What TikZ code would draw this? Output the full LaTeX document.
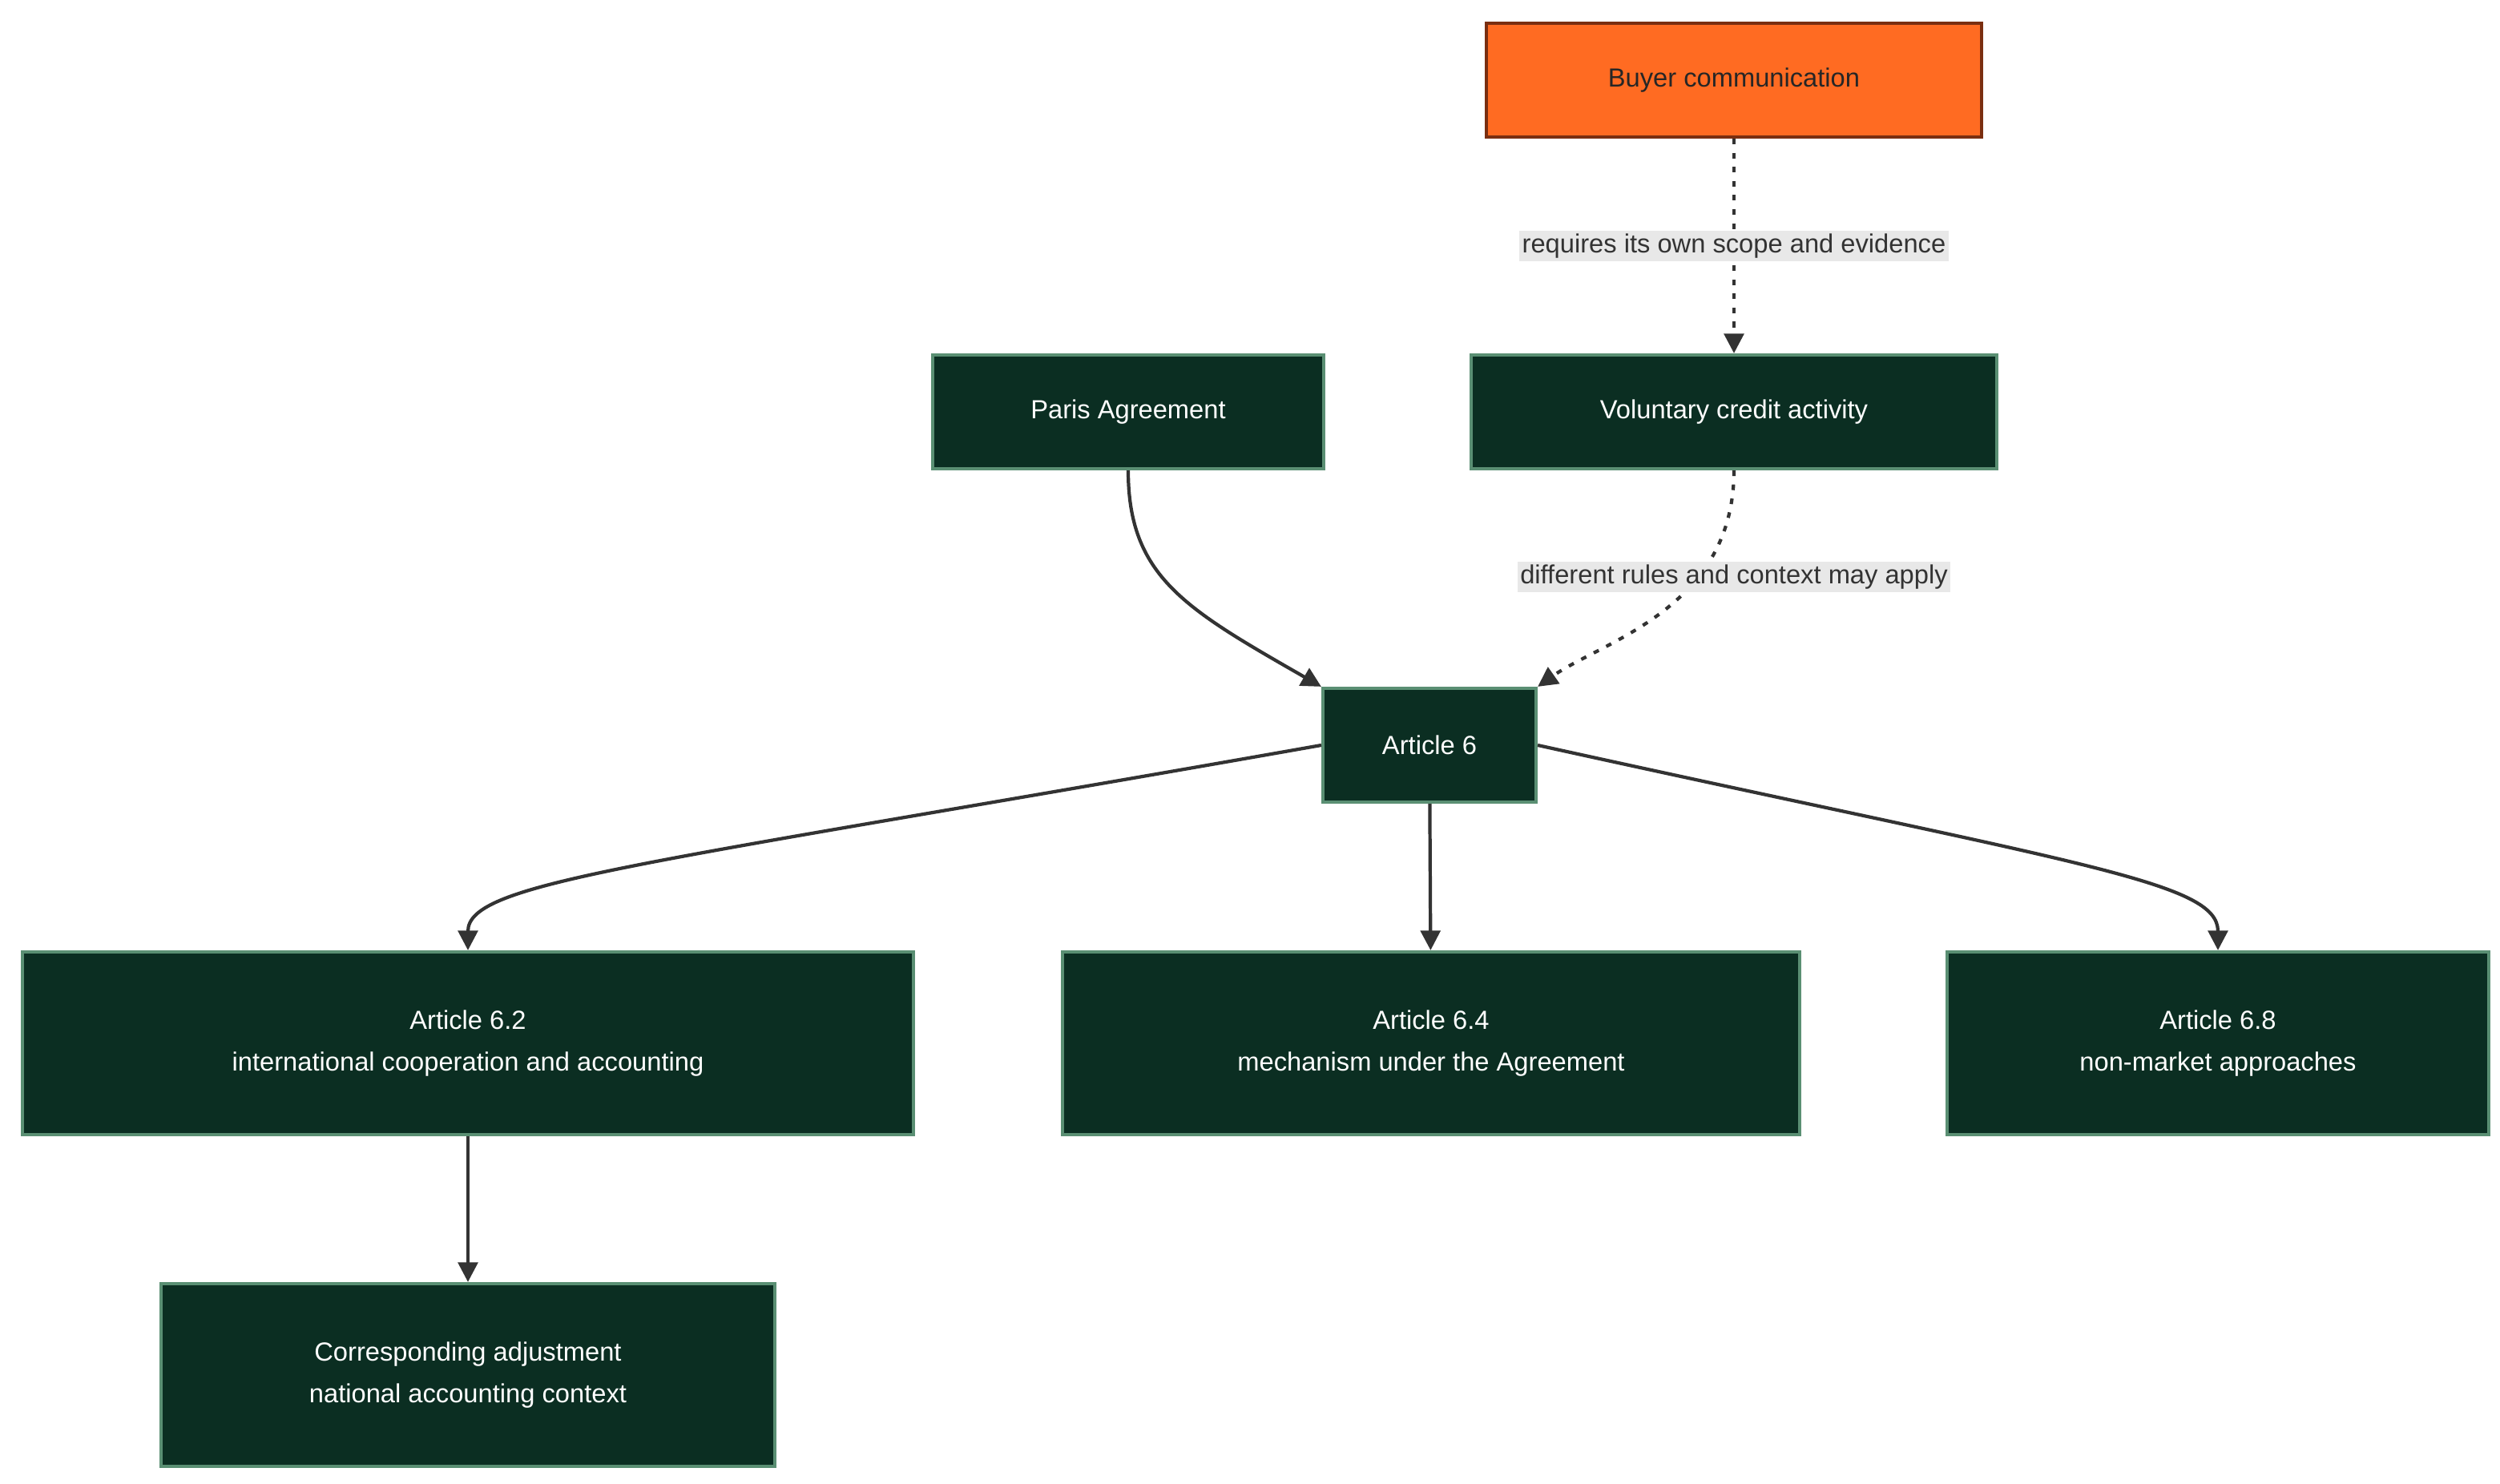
\documentclass[tikz,border=0pt]{standalone}
\usepackage{fontspec}
\setmainfont{Liberation Sans}
\usepackage{tikz}
\usetikzlibrary{arrows.meta,positioning}
\definecolor{boxfill}{HTML}{0B2E22}
\definecolor{boxline}{HTML}{5A8F73}
\definecolor{buyfill}{HTML}{FF6B22}
\definecolor{buyline}{HTML}{7A2E10}
\definecolor{edge}{HTML}{333333}
\definecolor{lblbg}{HTML}{E8E8E8}

\begin{document}
\begin{tikzpicture}
    [
    x=0.02cm, y=-0.02cm,
    box/.style = {draw=boxline, fill=boxfill, text=white, line width=1.2pt, rectangle, minimum height=1.42cm, align=center, font=\fontsize{9.3}{15}\selectfont},
    bigbox/.style = {box, minimum height=2.28cm},
    buyer/.style = {box, draw=buyline, fill=buyfill, text=black!85},
    arrow/.style = {-{Triangle[length=7pt,width=7pt]}, line width=1.2pt, draw=edge},
    dotarrow/.style = {arrow, dash pattern=on 2pt off 3pt},
    lbl/.style = {fill=lblbg, text=edge, inner sep=1pt, font=\fontsize{9.3}{11}\selectfont}
    ]
    \useasboundingbox (0,0) rectangle (1560,926);

% Nodes
    \node[buyer, minimum width=6.18cm] (buyer) at (1082,50) {Buyer communication};
    \node[box, minimum width=4.88cm] (paris) at (704,257) {Paris Agreement};
    \node[box, minimum width=6.56cm] (vol) at (1082,257) {Voluntary credit activity};
    \node[box, minimum width=2.66cm] (art6) at (892,465) {Article 6};
    \node[bigbox, minimum width=11.12cm] (a62) at (292,651) {Article 6.2\\international cooperation and accounting};
    \node[bigbox, minimum width=9.2cm] (a64) at (893,651) {Article 6.4\\mechanism under the Agreement};
    \node[bigbox, minimum width=6.76cm] (a68) at (1384,651) {Article 6.8\\non-market approaches};
    \node[bigbox, minimum width=7.66cm] (corr) at (292,858) {Corresponding adjustment\\national accounting context};

% Arrows
    \draw[dotarrow] (buyer) -- node[lbl] {requires its own scope and evidence} (vol);
    \draw[arrow] (paris.south) .. controls (704,360) and (740,380) .. (art6.north west);
    \draw[dotarrow] (vol.south) .. controls (1082,380) and (1000,400) .. (art6.north east);
    \node[lbl] at (1082,360) {different rules and context may apply};
    \draw[arrow] (art6.west) .. controls (400,540) and (292,550) .. (a62.north);
    \draw[arrow] (art6) -- (a64);
    \draw[arrow] (art6.east) .. controls (1300,540) and (1384,550) .. (a68.north);
    \draw[arrow] (a62) -- (corr);

\end{tikzpicture}
\end{document}
